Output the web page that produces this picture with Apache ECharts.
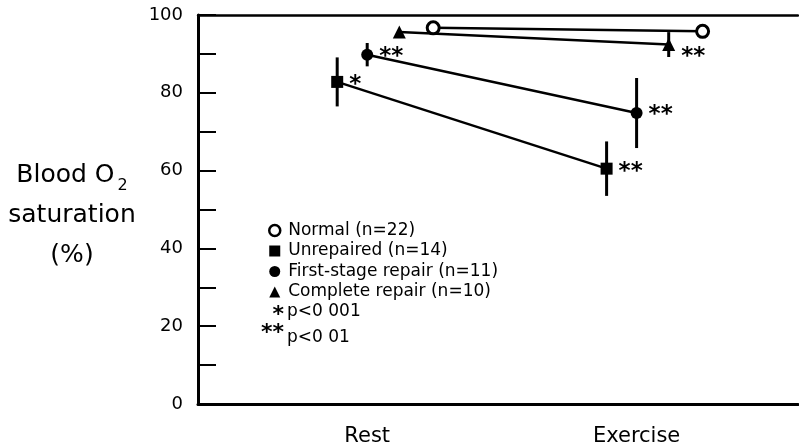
<!DOCTYPE html>
<html>
<head>
<meta charset="utf-8">
<script src="https://cdn.jsdelivr.net/npm/echarts@6/dist/echarts.min.js"></script>
<style>html,body{margin:0;padding:0;background:#fff;}#c{width:799px;height:447px;}</style>
</head>
<body>
<div id="c"></div>
<script>
// ---- data ----
const categories = ['Rest', 'Exercise'];
const groupNames = ['Normal (n=22)', 'Unrepaired (n=14)', 'First-stage repair (n=11)', 'Complete repair (n=10)'];
const normalMean = [96.7, 95.8];
const normalErr = [1.0, 1.2];
const unrepairedMean = [82.8, 60.5];
const unrepairedErr = [6.3, 7.0];
const firstStageMean = [89.8, 74.8];
const firstStageErr = [3.0, 9.0];
const completeMean = [95.6, 92.4];
const completeErr = [0, 3.2];
const normalSig = ['', ''];
const unrepairedSig = ['*', '**'];
const firstStageSig = ['**', '**'];
const completeSig = ['', '**'];
const yTickLabels = [0, 20, 40, 60, 80, 100];
const noteMarks = ['*', '**'];
const noteTexts = ['p<0 001', 'p<0 01'];

// ---- layout ----
const FONT = 'DejaVu Sans';
const catCenter = [28.2, 73.1];           // x-axis units for category centres
const dodge = [11.0, -5.0, 0, 5.35];       // per-group horizontal offset
const symbols = ['circle', 'rect', 'circle', 'triangle'];
const means = [normalMean, unrepairedMean, firstStageMean, completeMean];
const errs = [normalErr, unrepairedErr, firstStageErr, completeErr];
const sigs = [normalSig, unrepairedSig, firstStageSig, completeSig];
const sigOffsetY = [3, 3, 2, 12];

const series = [];
// error bars
groupNames.forEach((g, gi) => {
  series.push({
    type: 'custom',
    name: g + ' err',
    z: 1,
    silent: true,
    data: categories.map((c, ci) => [catCenter[ci] + dodge[gi], means[gi][ci] - errs[gi][ci], means[gi][ci] + errs[gi][ci]]),
    renderItem: function (params, api) {
      const lo = api.value(1), hi = api.value(2);
      if (hi - lo <= 0) return null;
      const p1 = api.coord([api.value(0), lo]);
      const p2 = api.coord([api.value(0), hi]);
      return { type: 'line', shape: { x1: p1[0], y1: p1[1], x2: p2[0], y2: p2[1] }, style: { stroke: '#000', lineWidth: 3 } };
    }
  });
});
// lines + markers
groupNames.forEach((g, gi) => {
  const isNormal = gi === 0;
  series.push({
    type: 'line',
    name: g,
    z: 3,
    symbol: symbols[gi],
    symbolSize: gi === 3 ? 13 : 12,
    showSymbol: true,
    lineStyle: { color: '#000', width: 2.5 },
    itemStyle: isNormal ? { color: '#fff', borderColor: '#000', borderWidth: 3 } : { color: '#000', borderWidth: 0 },
    data: categories.map((c, ci) => ({ value: [catCenter[ci] + dodge[gi], means[gi][ci]], sig: sigs[gi][ci] })),
    label: {
      show: true,
      position: 'right',
      distance: 6,
      offset: [0, sigOffsetY[gi]],
      fontFamily: FONT,
      fontWeight: 'bold',
      fontSize: 23,
      color: '#000',
      formatter: function (p) { return p.data.sig; }
    },
    emphasis: { disabled: true },
    animation: false
  });
});

const chart = echarts.init(document.getElementById('c'), null, { renderer: 'canvas' });
chart.setOption({
  backgroundColor: '#fff',
  animation: false,
  grid: { left: 198, right: 1, top: 15, bottom: 42 },
  xAxis: [{
    type: 'value', min: 0, max: 100,
    axisLine: { show: true, lineStyle: { color: '#000', width: 3 } },
    axisTick: { show: false },
    splitLine: { show: false },
    axisLabel: {
      customValues: catCenter,
      formatter: function (v) { const i = catCenter.indexOf(v); return i >= 0 ? categories[i] : ''; },
      fontFamily: FONT, fontSize: 21, color: '#000', margin: 22
    }
  }, {
    type: 'value', min: 0, max: 100, position: 'top',
    axisLine: { show: true, onZero: false, lineStyle: { color: '#000', width: 2.5 } },
    axisTick: { show: false }, axisLabel: { show: false }, splitLine: { show: false }
  }],
  yAxis: {
    type: 'value', min: 0, max: 100, interval: 10,
    axisLine: { show: true, lineStyle: { color: '#000', width: 3 } },
    axisTick: { show: true, inside: true, length: 18, lineStyle: { color: '#000', width: 2 } },
    splitLine: { show: false },
    axisLabel: {
      formatter: function (v) { return yTickLabels.indexOf(v) >= 0 ? String(v) : ''; },
      fontFamily: FONT, fontSize: 18, color: '#000', margin: 15
    },
    name: '{a|Blood O}{s|2}\n{a|saturation}\n{a|(%)}',
    nameLocation: 'middle',
    nameRotate: 0,
    nameGap: 126,
    nameTextStyle: {
      align: 'center', verticalAlign: 'middle', color: '#000',
      fontFamily: FONT, fontSize: 25, lineHeight: 40, padding: [12, 0, 0, 0],
      rich: {
        a: { fontFamily: FONT, fontSize: 25, lineHeight: 40, color: '#000' },
        s: { fontFamily: FONT, fontSize: 16, padding: [20, 0, 0, 3], color: '#000' }
      }
    }
  },
  legend: {
    orient: 'vertical', left: 268, top: 222, padding: 0,
    itemWidth: 11, itemHeight: 11, itemGap: 3.5,
    selectedMode: false,
    textStyle: { fontFamily: FONT, fontSize: 17, lineHeight: 17, color: '#000', padding: [0, 0, 0, 3] },
    data: groupNames.map((g, gi) => ({
      name: g,
      icon: symbols[gi],
      itemStyle: gi === 0 ? { color: '#fff', borderColor: '#000', borderWidth: 2.5 } : { color: '#000', borderWidth: 0 }
    }))
  },
  graphic: noteTexts.map((t, i) => ({
    type: 'group',
    children: [
      { type: 'text', x: 284, y: [315, 333][i], style: { text: noteMarks[i], font: 'bold 22px "' + FONT + '"', fill: '#000', align: 'right', verticalAlign: 'middle' } },
      { type: 'text', x: 287, y: [312, 338][i], style: { text: t, font: '17px "' + FONT + '"', fill: '#000', align: 'left', verticalAlign: 'middle' } }
    ]
  })),
  series: series
});
</script>
</body>
</html>
